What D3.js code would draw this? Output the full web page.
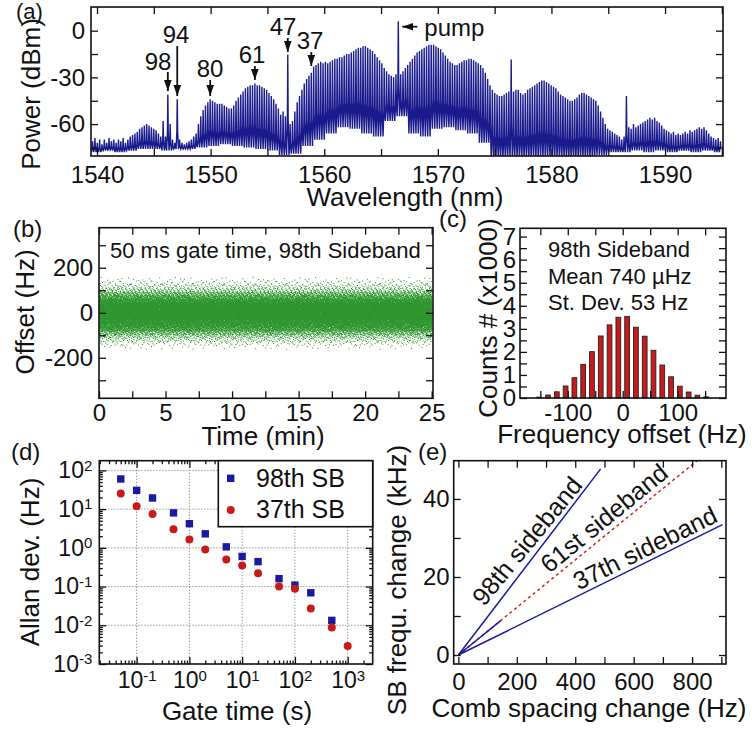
<!DOCTYPE html>
<html><head><meta charset="utf-8">
<script src="https://cdn.jsdelivr.net/npm/d3@7"></script>
<style>
body{margin:0;background:#fff;}
svg text{font-family:"Liberation Sans",Arial,sans-serif;fill:#111;}
</style></head><body>
<svg id="fig" width="752" height="736"></svg>
<script>
// ================= DATA =================
// (a) optical spectrum: comb lines, pump and spacing (nm)
const specPump = 1566.52;
const specSpacing = 0.207;
const specPumpIndex = 130;
// peak power of each comb line (dBm), from short to long wavelength
const specPeaks = [
 -71,-69,-72,-70,-73, -70,-72,-69,-71,-70, -72,-70,-71,-69,-72, -70,-68,-67,-66,-65,
 -63,-62,-61,-60,-61, -62,-63,-64,-66,-68, -58,-68,-41,-60,-70, -72,-44,-70,-72,-73,
 -72,-71,-70,-68,-66, -60,-55,-51,-48,-46, -44,-45,-46,-47,-47, -47,-48,-49,-50,-50,
 -48,-45,-43,-41,-39, -37,-36,-35,-35,-34, -35,-35,-36,-37,-38, -40,-42,-44,-47,-50,
 -54,-52,-55,-15.5,-60, -58,-52,-46,-42,-38, -34,-31,-29,-27,-23, -22,-21,-20,-21,-20,
 -21,-20,-19,-18,-18, -17,-17,-16,-15,-15, -14,-13,-12,-11,-11, -10,-10,-11,-12,-13,
 -15,-17,-19,-21,-24, -26,-28,-29,-30,-28,
 6,
 -28,-26,-24,-22,
 -20,-18,-16,-14,-13, -12,-11,-10,-9,-9, -9,-10,-11,-12,-14, -16,-18,-20,-21,-22,
 -22,-21,-20,-19,-19, -18,-18,-19,-20,-21, -22,-24,-27,-31,-35, -38,-40,-41,-42,-42,
 -41,-40,-39,-18.5,-39, -38,-38,-40,-41,-40, -38,-37,-36,-35,-34, -33,-32,-32,-33,-34,
 -35,-36,-37,-39,-41, -42,-43,-44,-45,-45, -44,-43,-41,-40,-40, -41,-42,-43,-44,-45,
 -48,-52,-56,-60,-63, -64,-65,-66,-67,-68, -70,-68,-42,-62,-63, -60,-62,-61,-60,-59,
 -58,-57,-56,-57,-56, -58,-59,-61,-63,-64, -65,-66,-65,-67,-66, -67,-66,-65,-66,-64,
 -65,-64,-63,-62,-63, -62,-64,-66,-68,-69, -70,-69,-71
];
// trace floor between lines (dBm), one value per group of 5 lines
const specTroughs = [
 -78,-77,-78,-77,-76,-76,-77,-76,-76,-75,
 -74,-73,-74,-75,-76,-77,-80,-79,-74,-70,
 -66,-62,-63,-66,-68,-58,-55,-66,-68,-63,
 -62,-64,-66,-72,-82,-82,-82,-82,-82,-82,
 -82,-82,-82,-80,-78,-78,-77,-78,-77,-78,
 -77,-78,-77,-78
];
const specMarked = [98, 94, 80, 61, 47, 37];

// (c) histogram of the 98th sideband offsets
const histCenters = [-152,-136,-120,-104,-88,-72,-56,-40,-24,-8,8,24,40,56,72,88,104,120,136,152];
const histCounts  = [0.04,0.13,0.27,0.52,0.88,1.46,2.01,2.69,3.17,3.50,3.54,3.07,2.68,2.07,1.43,0.92,0.51,0.26,0.12,0.05]; // x1000
const histBinWidth = 16;
const recordMinutes = 25;

// (d) Allan deviation
const gate98 = [0.05,0.1,0.2,0.5,1,2,5,10,20,50,100,200,500];
const allan98 = [60,30.5,19.4,8.0,4.2,2.3,1.06,0.60,0.44,0.16,0.109,0.069,0.0134];
const gate37 = [0.05,0.1,0.2,0.5,1,2,5,10,20,50,100,200,500,1000];
const allan37 = [25.5,11.8,7.5,3.0,1.64,0.90,0.50,0.35,0.22,0.10,0.088,0.027,0.0087,0.0029];

// (e) sideband frequency change vs comb spacing change
const sb98 = [[0,0],[487,47.7]];
const sb37 = [[0,0],[904,33.4]];
const sb61meas = [[0,0],[145,8.8]];
const sb61fit = [[0,0],[840,51.2]];

// ================= DRAW =================
const svg = d3.select("#fig");
const NAVY = "#1a1a8c", RED = "#c81a1a", GREEN = "#0a840a";

function styleAxis(sel, fs){
  sel.selectAll(".domain").remove();
  sel.selectAll(".tick line").attr("stroke","#111").attr("stroke-width",1.3);
  sel.selectAll("text").attr("font-size",fs).attr("font-family","Liberation Sans, Arial, sans-serif").attr("fill","#111");
  sel.attr("font-family",null).attr("font-size",null);
}
function frameAxes(g, x, y, o){
  const [xl,xr] = x.range(), [yb,yt] = y.range();
  const fmt = o.fmt || (d=>String(d));
  const L = o.len || 7, Lm = o.minorLen || L;
  const b = g.append("g").attr("transform",`translate(0,${yb})`)
    .call(d3.axisBottom(x).tickValues(o.xLab).tickSizeInner(-L).tickSizeOuter(0).tickPadding(o.xPad).tickFormat(o.xFmt||fmt));
  styleAxis(b, o.fs);
  const l = g.append("g").attr("transform",`translate(${xl},0)`)
    .call(d3.axisLeft(y).tickValues(o.yLab).tickSizeInner(-L).tickSizeOuter(0).tickPadding(o.yPad).tickFormat(o.yFmt||fmt));
  styleAxis(l, o.fs);
  const add = (axis, tr)=>{ const s=g.append("g").attr("transform",tr).call(axis.tickSizeOuter(0).tickFormat("")); styleAxis(s,o.fs); };
  add(d3.axisTop(x).tickValues(o.xLab).tickSizeInner(-L), `translate(0,${yt})`);
  add(d3.axisRight(y).tickValues(o.yLab).tickSizeInner(-L), `translate(${xr},0)`);
  if(o.xMin){
    add(d3.axisBottom(x).tickValues(o.xMin).tickSizeInner(-Lm), `translate(0,${yb})`);
    add(d3.axisTop(x).tickValues(o.xMin).tickSizeInner(-Lm), `translate(0,${yt})`);
  }
  if(o.yMin){
    add(d3.axisLeft(y).tickValues(o.yMin).tickSizeInner(-Lm), `translate(${xl},0)`);
    add(d3.axisRight(y).tickValues(o.yMin).tickSizeInner(-Lm), `translate(${xr},0)`);
  }
  g.append("rect").attr("x",xl).attr("y",yt).attr("width",xr-xl).attr("height",yb-yt)
    .attr("fill","none").attr("stroke","#111").attr("stroke-width",1.6);
  return {bottom:b, left:l};
}
function label(g, txt, x, y, fs, opts={}){
  const t = g.append("text").attr("x",x).attr("y",y).attr("font-size",fs).text(txt);
  if(opts.anchor) t.attr("text-anchor",opts.anchor);
  if(opts.rotate!==undefined) t.attr("transform",`rotate(${opts.rotate},${x},${y})`);
  if(opts.dy) t.attr("dy",opts.dy);
  return t;
}
const defs = svg.append("defs");
defs.append("marker").attr("id","arr").attr("viewBox","0 -4 11 8").attr("refX",11).attr("refY",0)
  .attr("markerWidth",11).attr("markerHeight",8).attr("markerUnits","userSpaceOnUse").attr("orient","auto")
  .append("path").attr("d","M0,-3.8L11,0L0,3.8Z").attr("fill","#111");

// ---------- (a) ----------
{
  const g = svg.append("g");
  const x = d3.scaleLinear([1539.47,1595.1],[91,723]);
  const y = d3.scaleLinear([-80.5,15.2],[156,7]);
  defs.append("clipPath").attr("id","clipA").append("rect").attr("x",91).attr("y",7).attr("width",632).attr("height",149);
  const pts = [];
  specPeaks.forEach((p,k)=>{
    const lam = specPump + (k-specPumpIndex)*specSpacing;
    const tr = specTroughs[Math.floor(k/5)];
    const mid = tr + 0.35*(p-tr);
    pts.push([lam-0.5*specSpacing,tr],[lam-0.16*specSpacing,mid],[lam,p],[lam+0.16*specSpacing,mid]);
  });
  g.append("path").attr("clip-path","url(#clipA)")
    .attr("d", d3.line().x(d=>x(d[0])).y(d=>y(d[1]))(pts))
    .attr("fill","none").attr("stroke",NAVY).attr("stroke-width",1.4);
  frameAxes(g,x,y,{xLab:[1540,1550,1560,1570,1580,1590], xMin:[1545,1555,1565,1575,1585,1595],
    yLab:[0,-30,-60], yMin:[-15,-45,-75], xPad:10, yPad:6, fs:24, len:7});
  label(g,"Power (dBm)",31,94,26,{anchor:"middle",rotate:-90,dy:"0.35em"});
  label(g,"Wavelength (nm)",405,206,26,{anchor:"middle"});
  label(g,"(a)",16,19,22);
  const annLayout = {98:[158,70,72,91], 94:[176,43,46,96], 80:[210,77,80,96], 61:[252,63,66,80], 47:[283,35,38,52], 37:[310,49,52,66]};
  specMarked.forEach(n=>{
    const ax = x(specPump - n*specSpacing);
    const L = annLayout[n];
    label(g,String(n),L[0],L[1],24,{anchor:"middle"});
    g.append("line").attr("x1",ax).attr("x2",ax).attr("y1",L[2]).attr("y2",L[3])
      .attr("stroke","#111").attr("stroke-width",1.8).attr("marker-end","url(#arr)");
  });
  const px = x(specPump);
  g.append("line").attr("x1",px+19).attr("x2",px+4).attr("y1",26.7).attr("y2",26.7)
    .attr("stroke","#111").attr("stroke-width",1.8).attr("marker-end","url(#arr)");
  label(g,"pump",px+26,36,24);
}

// ---------- (b) ----------
function halton(i,b){ let f=1,r=0; while(i>0){ f/=b; r+=f*(i%b); i=Math.floor(i/b);} return r; }
{
  const g = svg.append("g");
  const x = d3.scaleLinear([0,25.1],[99,433]);
  const y = d3.scaleLinear([-380,378],[398.3,227.7]);
  let idx = 1; const parts = [];
  histCenters.forEach((c,i)=>{
    const n = Math.round(histCounts[i]*1000);
    for(let j=0;j<n;j++){
      const t = halton(idx,2)*recordMinutes;
      const off = c + (halton(idx,3)-0.5)*histBinWidth;
      idx++;
      parts.push("M"+x(t).toFixed(1)+","+y(off).toFixed(1)+"h1v1h-1z");
    }
  });
  g.append("path").attr("d",parts.join("")).attr("fill",GREEN).attr("opacity",0.85);
  frameAxes(g,x,y,{xLab:[0,5,10,15,20,25], xMin:[2.5,7.5,12.5,17.5,22.5],
    yLab:[-200,0,200], yMin:[-300,-100,100,300], xPad:6, yPad:6, fs:24, len:7});
  label(g,"Offset (Hz)",25,312,26,{anchor:"middle",rotate:-90,dy:"0.35em"});
  label(g,"Time (min)",263,445,26,{anchor:"middle"});
  label(g,"(b)",13,237,24);
  label(g,"50 ms gate time, 98th Sideband",110,258,22);
}

// ---------- (c) ----------
{
  const g = svg.append("g");
  const x = d3.scaleLinear([-187,188],[520,726]);
  const y = d3.scaleLinear([0,7.36],[398,228.3]);
  g.selectAll("rect.bar").data(histCenters).join("rect").attr("class","bar")
    .attr("x",d=>x(d-histBinWidth*0.27)).attr("width",d=>x(d+histBinWidth*0.27)-x(d-histBinWidth*0.27))
    .attr("y",(d,i)=>y(histCounts[i])).attr("height",(d,i)=>y(0)-y(histCounts[i]))
    .attr("fill",RED).attr("stroke","#222").attr("stroke-width",0.9);
  const yMin=[]; for(let v=0.5; v<7.3; v+=1) yMin.push(v);
  frameAxes(g,x,y,{xLab:[-100,0,100], xMin:[-150,-50,50,150],
    yLab:[0,1,2,3,4,5,6,7], yMin:yMin, xPad:6, yPad:4, fs:24, len:7});
  label(g,"Counts # (x1000)",488,318,26,{anchor:"middle",rotate:-90,dy:"0.35em"});
  label(g,"Frequency offset (Hz)",622,443,26,{anchor:"middle"});
  label(g,"(c)",439,227,24);
  label(g,"98th Sideband",548,257,22);
  label(g,"Mean 740 \u00b5Hz",548,283.5,22);
  label(g,"St. Dev. 53 Hz",548,310,22);
}

// ---------- (d) ----------
{
  const g = svg.append("g");
  const x = d3.scaleLog([0.0196,2980],[99.3,372.7]);
  const y = d3.scaleLog([1e-3,178],[664,460.7]);
  const minorOf = (lo,hi)=>{ const a=[]; for(let e=-4;e<=4;e++) for(let m=2;m<=9;m++){ const v=m*Math.pow(10,e); if(v>lo&&v<hi) a.push(v);} return a; };
  const xMaj=[0.1,1,10,100,1000], yMaj=[1e-3,1e-2,0.1,1,10,100];
  g.selectAll("line.gx").data(xMaj).join("line").attr("x1",d=>x(d)).attr("x2",d=>x(d)).attr("y1",460.7).attr("y2",664)
    .attr("stroke","#777").attr("stroke-width",0.9).attr("stroke-dasharray","1.2,1.8");
  g.selectAll("line.gy").data(yMaj.slice(1)).join("line").attr("y1",d=>y(d)).attr("y2",d=>y(d)).attr("x1",99.3).attr("x2",372.7)
    .attr("stroke","#777").attr("stroke-width",0.9).attr("stroke-dasharray","1.2,1.8");
  const sup = function(d){
    const e = Math.round(Math.log10(d));
    const t = d3.select(this); t.text("10");
    t.append("tspan").attr("dy","-0.5em").attr("font-size","15px").text(e<0?"-"+(-e):String(e));
  };
  const ax = frameAxes(g,x,y,{xLab:xMaj, xMin:minorOf(0.0196,2980), yLab:yMaj, yMin:minorOf(1e-3,178),
    xPad:8, yPad:7, fs:23, len:7, minorLen:3.5, fmt:d=>String(d)});
  ax.bottom.selectAll("text").each(sup);
  ax.left.selectAll("text").each(sup);
  g.selectAll("rect.s98").data(gate98).join("rect").attr("class","s98")
    .attr("x",d=>x(d)-3.7).attr("y",(d,i)=>y(allan98[i])-3.7).attr("width",7.4).attr("height",7.4).attr("fill","#1a1aa0");
  g.selectAll("circle.s37").data(gate37).join("circle").attr("class","s37")
    .attr("cx",d=>x(d)).attr("cy",(d,i)=>y(allan37[i])).attr("r",4).attr("fill",RED);
  g.append("rect").attr("x",218.3).attr("y",460.7).attr("width",154.4).attr("height",66).attr("fill","#fff").attr("stroke","#111").attr("stroke-width",1.6);
  g.append("rect").attr("x",227).attr("y",474.6).attr("width",7.4).attr("height",7.4).attr("fill","#1a1aa0");
  g.append("circle").attr("cx",230.7).attr("cy",510).attr("r",4).attr("fill",RED);
  label(g,"98th SB",256,487,25);
  label(g,"37th SB",256,518,25);
  label(g,"Allan dev. (Hz)",30,562,26,{anchor:"middle",rotate:-90,dy:"0.35em"});
  label(g,"Gate time (s)",237,720,26,{anchor:"middle"});
  label(g,"(d)",11,460,24);
}

// ---------- (e) ----------
{
  const g = svg.append("g");
  const x = d3.scaleLinear([-16,916],[453.7,726]);
  const y = d3.scaleLinear([-2.3,49.8],[664,460.7]);
  defs.append("clipPath").attr("id","clipE").append("rect").attr("x",453.7).attr("y",460.7).attr("width",272.3).attr("height",203.3);
  const ln = d3.line().x(d=>x(d[0])).y(d=>y(d[1]));
  const gc = g.append("g").attr("clip-path","url(#clipE)");
  gc.append("path").attr("d",ln(sb61fit)).attr("fill","none").attr("stroke","#d42020").attr("stroke-width",1.5).attr("stroke-dasharray","3,3");
  [sb98,sb37,sb61meas].forEach(s=>gc.append("path").attr("d",ln(s)).attr("fill","none").attr("stroke","#1a1aa0").attr("stroke-width",1.5));
  frameAxes(g,x,y,{xLab:[0,200,400,600,800], xMin:[100,300,500,700,900],
    yLab:[0,20,40], yMin:[10,30], xPad:9, yPad:4, fs:24, len:7});
  const ang = s => -Math.atan2(y(0)-y(s[1][1]), x(s[1][0])-x(0))*180/Math.PI;
  label(g,"98th sideband",527,541,25,{anchor:"middle",rotate:ang(sb98)+2,dy:"0.35em"});
  label(g,"61st sideband",604,518,25,{anchor:"middle",rotate:ang(sb61fit),dy:"0.35em"});
  label(g,"37th sideband",645,548,25,{anchor:"middle",rotate:ang(sb37),dy:"0.35em"});
  label(g,"SB frequ. change (kHz)",397,580,26,{anchor:"middle",rotate:-90,dy:"0.35em"});
  label(g,"Comb spacing change (Hz)",589,717,26,{anchor:"middle"});
  label(g,"(e)",418,460,24);
}
</script>
</body></html>
